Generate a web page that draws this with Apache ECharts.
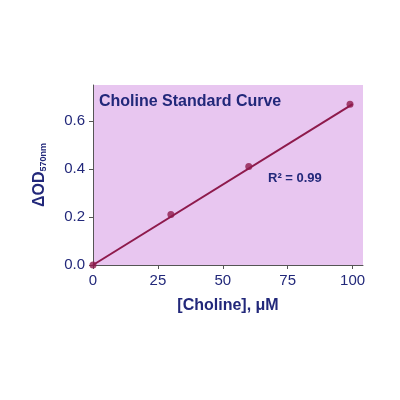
<!DOCTYPE html><html><head><meta charset="utf-8"><script src="https://cdn.jsdelivr.net/npm/echarts@6/dist/echarts.min.js"></script></head><body style="margin:0;background:#fff"><div id="c" style="width:400px;height:400px"></div><script>
const concentrations=[0,30,60,99];
const odValues=[0,0.21,0.41,0.67];
const fitX=[0,100];
const fitY=[0,0.67];
const xTicks=[0,25,50,75,100];
const yTicks=[0,0.2,0.4,0.6];
const navy='#22287a', wine='#8e1a4c';
const ch=echarts.init(document.getElementById('c'));
ch.setOption({
 animation:false,
 grid:{left:93,right:37,top:85,bottom:135,backgroundColor:'#e8c6f0',show:true,borderWidth:0},
 xAxis:{type:'value',min:0,max:104,interval:25,splitLine:{show:false},
  axisLine:{lineStyle:{color:'#555'}},axisTick:{customValues:xTicks,length:4,lineStyle:{color:'#555'}},
  axisLabel:{customValues:xTicks,color:navy,fontSize:15,fontFamily:'Liberation Sans',margin:8},
  name:'[Choline], \u03bcM',nameLocation:'middle',nameGap:33,nameTextStyle:{color:navy,fontSize:16,fontWeight:'bold',fontFamily:'Liberation Sans'}},
 yAxis:{type:'value',min:0,max:0.75,interval:0.2,splitLine:{show:false},
  axisLine:{show:true,lineStyle:{color:'#555'}},axisTick:{show:true,customValues:yTicks,length:4,lineStyle:{color:'#555'}},
  axisLabel:{customValues:yTicks,color:navy,fontSize:15,fontFamily:'Liberation Sans',formatter:v=>v.toFixed(1)},
  name:'{a|\u0394OD}{b|570nm}',nameLocation:'middle',nameGap:45,
  nameTextStyle:{rich:{a:{color:navy,fontSize:16,fontWeight:'bold',fontFamily:'Liberation Sans'},b:{color:navy,fontSize:9,fontWeight:'bold',verticalAlign:'bottom',padding:[6,0,0,0]}}}},
 graphic:[{type:'text',left:99,top:94,style:{text:'Choline Standard Curve',fill:navy,font:'bold 16px Liberation Sans',letterSpacing:1.2}},
  {type:'text',left:268,top:172,style:{text:'R\u00b2 = 0.99',fill:navy,font:'bold 13px Liberation Sans'}}],
 series:[{type:'line',data:fitX.map((x,i)=>[x,fitY[i]]),symbol:'none',lineStyle:{color:wine,width:2}},
  {type:'scatter',data:concentrations.map((x,i)=>[x,odValues[i]]),symbolSize:7,itemStyle:{color:wine},clip:false}]
});
</script></body></html>
